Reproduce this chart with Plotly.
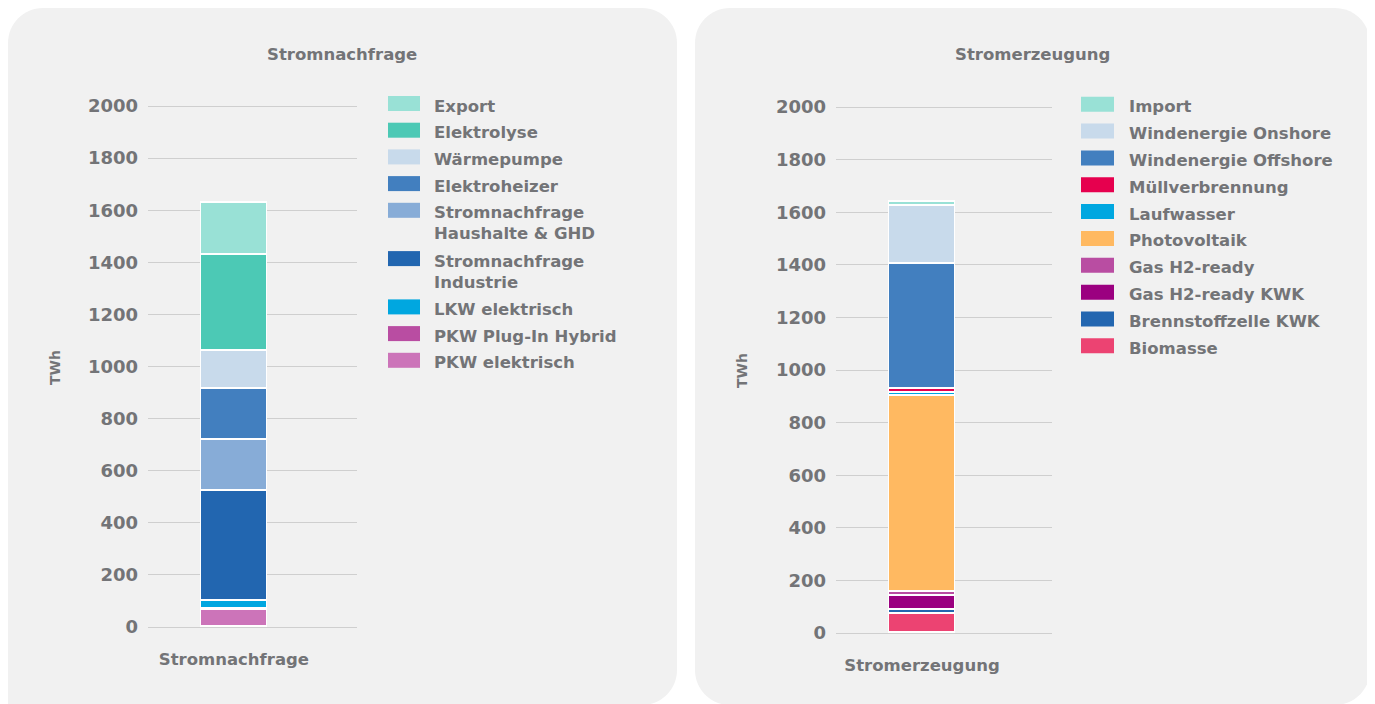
import plotly.graph_objects as go

# ---------------- data ----------------
nachfrage_cat = ["Stromnachfrage"]
nachfrage_labels = ["PKW elektrisch", "PKW Plug-In Hybrid", "LKW elektrisch",
                    "Stromnachfrage Industrie", "Stromnachfrage Haushalte & GHD",
                    "Elektroheizer", "Wärmepumpe", "Elektrolyse", "Export"]
nachfrage_values = [65, 4, 32, 422, 194, 196, 146, 368, 203]
nachfrage_colors = ["#cc74b9", "#b94da2", "#00a7e0", "#2266b0", "#87acd7",
                    "#427fbf", "#c8daeb", "#4cc9b5", "#99e1d6"]

erzeugung_cat = ["Stromerzeugung"]
erzeugung_labels = ["Biomasse", "Brennstoffzelle KWK", "Gas H2-ready KWK", "Gas H2-ready",
                    "Photovoltaik", "Laufwasser", "Müllverbrennung",
                    "Windenergie Offshore", "Windenergie Onshore", "Import"]
erzeugung_values = [72, 15, 55, 14, 746, 12, 14, 475, 221, 14]
erzeugung_colors = ["#ec4372", "#2266b0", "#9b0080", "#b94da2", "#ffb961",
                    "#00a7e0", "#e6004e", "#427fbf", "#c8daeb", "#99e1d6"]

y_ticks = [0, 200, 400, 600, 800, 1000, 1200, 1400, 1600, 1800, 2000]
unit_label = "TWh"

# ---------------- layout helpers ----------------
W, H = 1359, 696
OFF = 8  # browser body margin
TXT = "#737477"
GRID = "#cfcfcf"
PANEL = "#f1f1f1"
FONT = "DejaVu Sans"


def fx(px):
    return (px - OFF) / W


def fy(py):
    return 1 - (py - OFF) / H


def rounded_path(x0, y0, x1, y1, r):
    tl, tr, br, bl = r
    k = 0.5523

    def P(x, y):
        return f"{fx(x):.5f},{fy(y):.5f}"
    d = f"M{P(x0 + tl, y0)} L{P(x1 - tr, y0)} "
    d += f"C{P(x1 - tr + k * tr, y0)} {P(x1, y0 + tr - k * tr)} {P(x1, y0 + tr)} "
    d += f"L{P(x1, y1 - br)} "
    d += f"C{P(x1, y1 - br + k * br)} {P(x1 - br + k * br, y1)} {P(x1 - br, y1)} "
    d += f"L{P(x0 + bl, y1)} "
    d += f"C{P(x0 + bl - k * bl, y1)} {P(x0, y1 - bl + k * bl)} {P(x0, y1 - bl)} "
    d += f"L{P(x0, y0 + tl)} "
    d += f"C{P(x0, y0 + tl - k * tl)} {P(x0 + tl - k * tl, y0)} {P(x0 + tl, y0)} Z"
    return d


fig = go.Figure()

for lab, val, col in zip(nachfrage_labels, nachfrage_values, nachfrage_colors):
    fig.add_trace(go.Bar(x=nachfrage_cat, y=[val], name=lab, width=0.316,
                         marker=dict(color=col, line=dict(color="white", width=1.5)),
                         xaxis="x", yaxis="y", showlegend=False))
for lab, val, col in zip(erzeugung_labels, erzeugung_values, erzeugung_colors):
    fig.add_trace(go.Bar(x=erzeugung_cat, y=[val], name=lab, width=0.306,
                         marker=dict(color=col, line=dict(color="white", width=1.5)),
                         xaxis="x2", yaxis="y2", showlegend=False))

PAD = 20


def ydomain(top2000, bottom0):
    s = (bottom0 - top2000) / 2000.0
    return [fy(bottom0 + PAD * s), fy(top2000 - PAD * s)]


tickfont = dict(family=FONT, size=18, color=TXT, weight=700)
catfont = dict(family=FONT, size=16.5, color=TXT, weight=700)

yax = dict(range=[-PAD, 2000 + PAD], tickvals=y_ticks, showgrid=True, gridcolor=GRID,
           gridwidth=1, zeroline=True, zerolinecolor=GRID, zerolinewidth=1,
           showline=False, ticks="", tickfont=tickfont, ticklabelstandoff=9,
           automargin=False)
xax = dict(showgrid=False, zeroline=False, showline=False, ticks="", tickfont=catfont,
           ticklabelstandoff=15, type="category", automargin=False)

fig.update_layout(
    width=W, height=H, margin=dict(l=0, r=0, t=0, b=0, pad=0), autosize=False,
    paper_bgcolor="white", plot_bgcolor="rgba(0,0,0,0)",
    barmode="stack", bargap=0,
    xaxis=dict(xax, domain=[fx(148), fx(357)], range=[-0.411, 0.589]),
    yaxis=dict(yax, domain=ydomain(106, 627), anchor="x"),
    xaxis2=dict(xax, domain=[fx(836), fx(1052)], range=[-0.398, 0.602], anchor="y2"),
    yaxis2=dict(yax, domain=ydomain(107, 633), anchor="x2"),
)

shapes = [
    dict(type="path", xref="paper", yref="paper", layer="below",
         path=rounded_path(8, 8, 677, 705, (35, 35, 35, 0)),
         fillcolor=PANEL, line=dict(width=0)),
    dict(type="path", xref="paper", yref="paper", layer="below",
         path=rounded_path(695, 8, 1370, 705, (35, 35, 35, 35)),
         fillcolor=PANEL, line=dict(width=0)),
]
annotations = []

labfont = dict(family=FONT, size=16.5, color=TXT, weight=700)

# titles
annotations.append(dict(text="Stromnachfrage", x=fx(342), y=fy(54), xref="paper", yref="paper",
                        showarrow=False, font=labfont, xanchor="center", yanchor="middle"))
annotations.append(dict(text="Stromerzeugung", x=fx(1032), y=fy(55), xref="paper", yref="paper",
                        showarrow=False, font=labfont, xanchor="center", yanchor="middle"))
# unit labels
for xx, yy in [(55, 368), (742, 370)]:
    annotations.append(dict(text=unit_label, x=fx(xx), y=fy(yy), xref="paper", yref="paper",
                            showarrow=False, textangle=-90,
                            font=dict(family=FONT, size=14, color=TXT, weight=700),
                            xanchor="center", yanchor="middle"))


def add_legend(labels, colors, sw_x0, sw_x1, txt_x, y_start, step, line_step):
    y = y_start
    for lab, col in zip(labels[::-1], colors[::-1]):
        disp = lab.replace("Stromnachfrage ", "Stromnachfrage<br>")
        nlines = disp.count("<br>") + 1
        shapes.append(dict(type="rect", xref="paper", yref="paper",
                           x0=fx(sw_x0), x1=fx(sw_x1), y0=fy(y - 7.5), y1=fy(y + 7.5),
                           fillcolor=col, line=dict(width=0)))
        annotations.append(dict(text=disp, x=fx(txt_x), y=fy(y + 3 - 12), xref="paper",
                                yref="paper", showarrow=False, font=labfont, align="left",
                                xanchor="left", yanchor="top"))
        y += step + (nlines - 1) * line_step


add_legend(nachfrage_labels, nachfrage_colors, 388, 420, 432, 103.5, 26.7, 21.6)
add_legend(erzeugung_labels, erzeugung_colors, 1081, 1114, 1127, 104.2, 26.85, 21.6)

fig.update_layout(shapes=shapes, annotations=annotations)

fig.write_html("out.html")
